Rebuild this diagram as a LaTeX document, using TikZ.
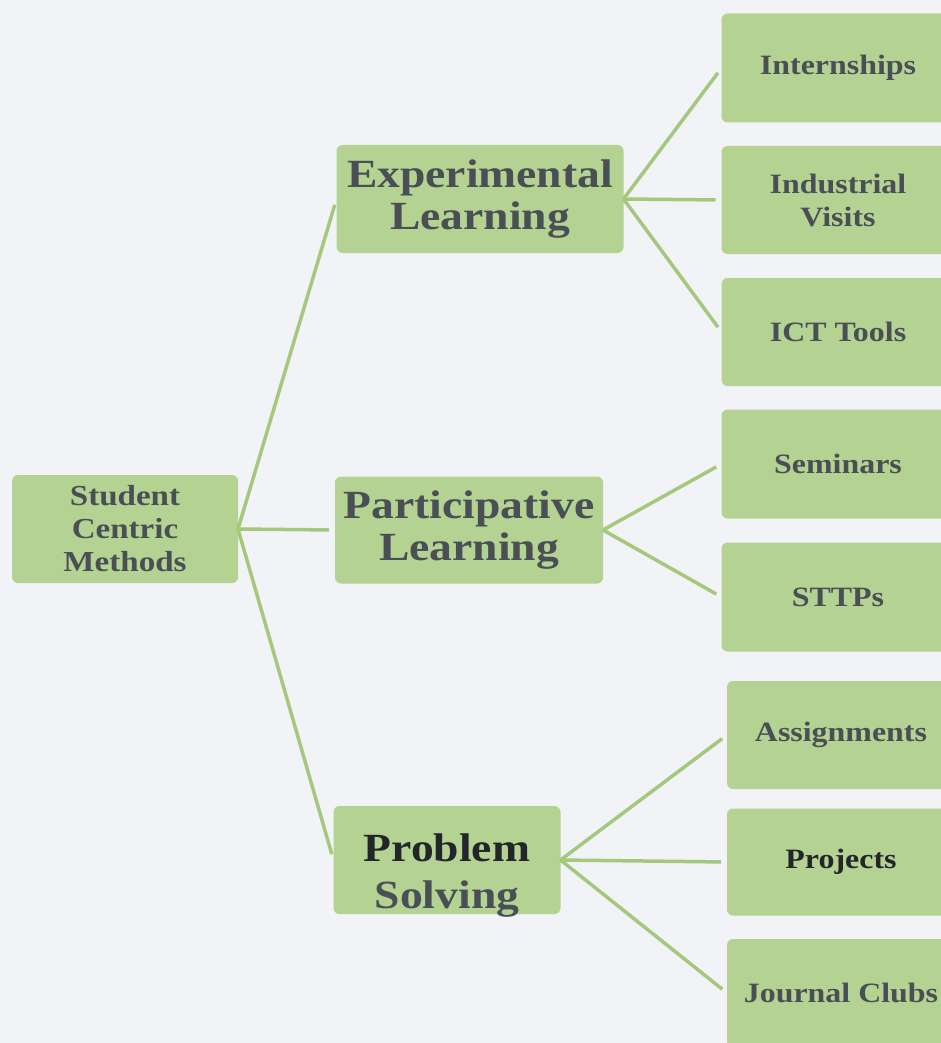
\documentclass[tikz,border=0pt]{standalone}
\usepackage{fontspec}
\setmainfont{Liberation Serif}[FakeStretch=1.14]
\definecolor{boxgreen}{HTML}{B4D291}
\definecolor{linkgreen}{HTML}{A6C77E}
\definecolor{inkgrey}{HTML}{4A4F56}
\definecolor{inkdark}{HTML}{22252A}
\definecolor{paper}{HTML}{F2F3F6}
\begin{document}
\begin{tikzpicture}[x=1pt,y=-1pt,inner sep=0pt,outer sep=0pt,
stepbox/.style={fill=boxgreen,rounded corners=6pt,align=center,text=inkgrey,font=\bfseries},
link/.style={draw=linkgreen,line width=3.5pt,shorten >=6pt}]
\fill[paper] (0,0) rectangle (941,1043);
\useasboundingbox (0,0) rectangle (941,1043);
\clip (0,0) rectangle (941,1043);
\draw (125,529) node[stepbox,minimum width=226pt,minimum height=108pt,font=\bfseries\fontsize{29}{33}\selectfont] (root) {Student\\Centric\\Methods};
\draw (480,199) node[stepbox,minimum width=287pt,minimum height=108pt,font=\bfseries\fontsize{40}{42}\selectfont] (exp) {Experimental\\Learning};
\draw (469,530) node[stepbox,minimum width=268pt,minimum height=107pt,font=\bfseries\fontsize{40}{42}\selectfont] (part) {Participative\\Learning};
% text sits low in this box
\draw (447,860) node[stepbox,minimum width=227pt,minimum height=108pt,font=\bfseries\fontsize{40}{47}\selectfont] (prob) {\raisebox{-22pt}[0pt][0pt]{\begin{tabular}{@{}c@{}}\textcolor{inkdark}{Problem}\\Solving\end{tabular}}};
\draw (838,68) node[stepbox,minimum width=233pt,minimum height=109pt,font=\bfseries\fontsize{28}{33}\selectfont] (intern) {Internships};
\draw (838,200) node[stepbox,minimum width=233pt,minimum height=108pt,font=\bfseries\fontsize{28}{33}\selectfont] (indus) {Industrial\\Visits};
\draw (838,332) node[stepbox,minimum width=233pt,minimum height=108pt,font=\bfseries\fontsize{28}{33}\selectfont] (ict) {ICT Tools};
\draw (838,464) node[stepbox,minimum width=233pt,minimum height=109pt,font=\bfseries\fontsize{28}{33}\selectfont] (sem) {Seminars};
\draw (838,597) node[stepbox,minimum width=233pt,minimum height=109pt,font=\bfseries\fontsize{28}{33}\selectfont] (sttp) {STTPs};
\draw (841,735) node[stepbox,minimum width=228pt,minimum height=108pt,font=\bfseries\fontsize{28}{33}\selectfont] (assign) {Assignments};
\draw (841,862) node[stepbox,minimum width=228pt,minimum height=107pt,text=inkdark,font=\bfseries\fontsize{28}{33}\selectfont] (proj) {Projects};
\draw (841,993) node[stepbox,minimum width=228pt,minimum height=108pt,font=\bfseries\fontsize{28}{33}\selectfont] (journal) {Journal Clubs};
\foreach \kid in {exp,part,prob} \draw[link] (root.east) -- (\kid.west);
\foreach \kid in {intern,indus,ict} \draw[link] (exp.east) -- (\kid.west);
\foreach \kid in {sem,sttp} \draw[link] (part.east) -- (\kid.west);
\foreach \kid in {assign,proj,journal} \draw[link] (prob.east) -- (\kid.west);
\end{tikzpicture}
\end{document}
